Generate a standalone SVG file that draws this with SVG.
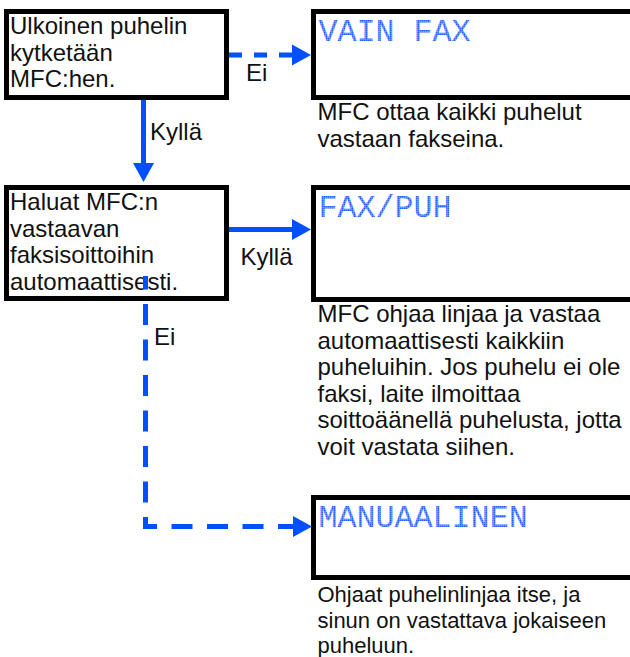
<svg xmlns="http://www.w3.org/2000/svg" width="630" height="657" viewBox="0 0 630 657">
  <style>
    .box { fill: #ffffff; stroke: #000000; stroke-width: 5; }
    .t { font-family: "Liberation Sans", Arial, Helvetica, sans-serif; font-size: 24px; fill: #111111; }
    .t2 { font-family: "Liberation Sans", Arial, Helvetica, sans-serif; font-size: 22px; fill: #111111; }
    .lcd { font-family: "Liberation Mono", "DejaVu Sans Mono", monospace; font-size: 31.7px; fill: url(#dots); }
    .solid { fill: none; stroke: #0050ff; stroke-width: 5; }
    .dash { fill: none; stroke: #0050ff; stroke-width: 5; stroke-dasharray: 21 14.5; }
  </style>
  <defs>
    <pattern id="dots" patternUnits="userSpaceOnUse" width="2" height="2">
      <rect width="2" height="2" fill="#8fb0ff"/>
      <rect width="1.5" height="1.5" fill="#1f5fff"/>
    </pattern>
    <marker id="arrow" markerUnits="userSpaceOnUse" markerWidth="20" markerHeight="22" refX="0" refY="10.5" orient="auto" overflow="visible">
      <path d="M0,0 L19,10.5 L0,21 Z" fill="#0050ff"/>
    </marker>
  </defs>

  <rect width="630" height="657" fill="#ffffff"/>

  <g id="node-ulkoinen">
    <rect class="box" x="6.5" y="11.5" width="220" height="86"/>
    <text class="t" x="10" y="34.3">Ulkoinen puhelin</text>
    <text class="t" x="10" y="61">kytketään</text>
    <text class="t" x="10" y="87.3">MFC:hen.</text>
  </g>

  <g id="node-vainfax">
    <rect class="box" x="313.5" y="11.5" width="340" height="86"/>
    <text class="lcd" x="318.5" y="41">VAIN FAX</text>
    <text class="t" x="317.5" y="120">MFC ottaa kaikki puhelut</text>
    <text class="t" x="317.5" y="146.7">vastaan fakseina.</text>
  </g>

  <g id="node-haluat">
    <rect class="box" x="6.5" y="187.5" width="220" height="111"/>
    <text class="t" x="10" y="210">Haluat MFC:n</text>
    <text class="t" x="10" y="236.5">vastaavan</text>
    <text class="t" x="10" y="263">faksisoittoihin</text>
    <text class="t" x="10" y="289.5">automaattisesti.</text>
  </g>

  <g id="node-faxpuh">
    <rect class="box" x="313.5" y="187.5" width="340" height="112"/>
    <text class="lcd" x="318.5" y="216.7">FAX/PUH</text>
    <text class="t" x="317.5" y="322">MFC ohjaa linjaa ja vastaa</text>
    <text class="t" x="317.5" y="348.5">automaattisesti kaikkiin</text>
    <text class="t" x="317.5" y="375">puheluihin. Jos puhelu ei ole</text>
    <text class="t" x="317.5" y="401.5">faksi, laite ilmoittaa</text>
    <text class="t" x="317.5" y="428">soittoäänellä puhelusta, jotta</text>
    <text class="t" x="317.5" y="454.5">voit vastata siihen.</text>
  </g>

  <g id="node-manuaalinen">
    <rect class="box" x="313.5" y="497.5" width="340" height="80"/>
    <text class="lcd" x="318.5" y="526.7">MANUAALINEN</text>
    <text class="t2" x="317.5" y="601.5">Ohjaat puhelinlinjaa itse, ja</text>
    <text class="t2" x="317.5" y="627.5">sinun on vastattava jokaiseen</text>
    <text class="t2" x="317.5" y="653">puheluun.</text>
  </g>

  <g id="connectors">
    <path class="dash" d="M229,55 H292" style="stroke-dasharray: 13 12" marker-end="url(#arrow)"/>
    <text class="t" x="246" y="80.7">Ei</text>

    <path class="solid" d="M143.5,100 V163" marker-end="url(#arrow)"/>
    <text class="t" x="150" y="140">Kyllä</text>

    <path class="solid" d="M229,229.5 H292" marker-end="url(#arrow)"/>
    <text class="t" x="240.5" y="265">Kyllä</text>

    <path class="dash" d="M145.5,276 V526.5 H293" style="stroke-dashoffset: 7.5" marker-end="url(#arrow)"/>
    <text class="t" x="154" y="345">Ei</text>
  </g>
</svg>
